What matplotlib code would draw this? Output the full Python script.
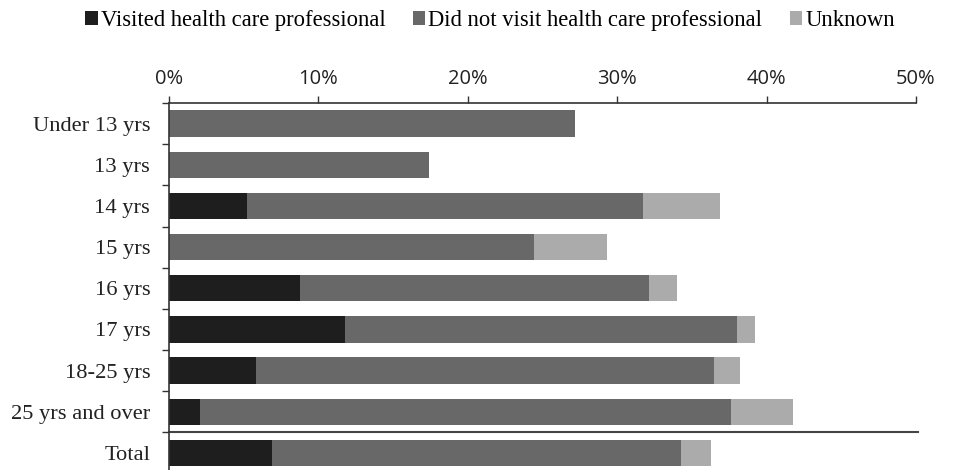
import matplotlib
matplotlib.use("Agg")
import matplotlib.pyplot as plt
from matplotlib.patches import Patch
import numpy as np

categories = ["Under 13 yrs", "13 yrs", "14 yrs", "15 yrs", "16 yrs", "17 yrs",
              "18-25 yrs", "25 yrs and over", "Total"]
visited = [0.0, 0.0, 5.2, 0.0, 8.8, 11.8, 5.8, 2.1, 6.9]
not_visited = [27.2, 17.4, 26.5, 24.4, 23.3, 26.2, 30.7, 35.5, 27.4]
unknown = [0.0, 0.0, 5.2, 4.9, 1.9, 1.2, 1.7, 4.2, 2.0]
series_names = ["Visited health care professional",
                "Did not visit health care professional", "Unknown"]
colors = ["#1e1e1e", "#686868", "#ababab"]
xticks = [0, 10, 20, 30, 40, 50]
xtick_labels = ["0%", "10%", "20%", "30%", "40%", "50%"]

serif = "Liberation Serif"
sans = "Open Sans"

W, H = 955, 470
fig = plt.figure(figsize=(W / 100, H / 100), dpi=100)
left, right, top, bottom = 169, 916, 103, 473.5
ax = fig.add_axes([left / W, (H - bottom) / H, (right - left) / W, (bottom - top) / H])

y = np.arange(len(categories))
v = np.array(visited)
n = np.array(not_visited)
u = np.array(unknown)
h = 0.64
ax.barh(y, v, height=h, color=colors[0], edgecolor="none")
ax.barh(y, n, left=v, height=h, color=colors[1], edgecolor="none")
ax.barh(y, u, left=v + n, height=h, color=colors[2], edgecolor="none")

ax.set_xlim(0, 50)
ax.set_ylim(len(categories) - 0.5, -0.5)
ax.xaxis.tick_top()
ax.set_xticks(xticks)
ax.set_xticklabels(xtick_labels, fontfamily=sans, fontsize=14.5, color="#222222")
ax.tick_params(axis="x", direction="out", length=5, width=1, color="#333333", pad=5)

ax.set_yticks(y)
ax.set_yticklabels(categories, fontfamily=serif, fontsize=16.2, color="#222222")
ax.set_yticks(np.arange(len(categories) + 1) - 0.5, minor=True)
ax.tick_params(axis="y", which="major", length=0, pad=13.5)
ax.tick_params(axis="y", which="minor", direction="out", length=5, width=1, color="#333333")

for s in ["right", "bottom"]:
    ax.spines[s].set_visible(False)
ax.spines["top"].set_color("#333333")
ax.spines["left"].set_color("#333333")
ax.spines["top"].set_linewidth(1.2)
ax.spines["left"].set_linewidth(1.2)

# separator between age groups and total
ax.axhline(len(categories) - 1.5, xmin=0, xmax=1.003, color="#444444", linewidth=1.5, clip_on=False)

handles = [Patch(facecolor=c, edgecolor="none") for c in colors]
fig.legend(handles, series_names, loc="center", bbox_to_anchor=(0.513, 0.957), ncol=3,
           frameon=False, prop={"family": serif, "size": 16.3},
           handlelength=0.57, handleheight=0.57, handletextpad=0.13, columnspacing=1.2,
           borderpad=0, borderaxespad=0)

fig.savefig("out.png", dpi=100)
